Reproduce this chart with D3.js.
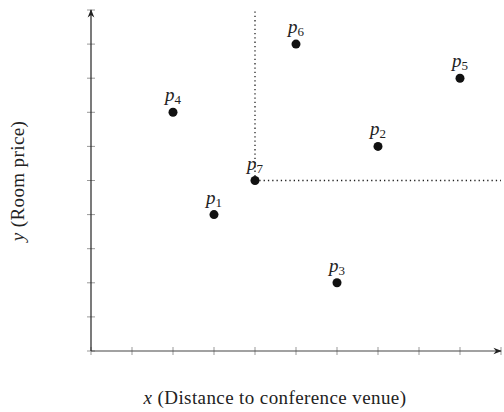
<!DOCTYPE html>
<html>
<head>
<meta charset="utf-8">
<script src="https://cdn.jsdelivr.net/npm/d3@7"></script>
<style>
  body { margin: 0; background: #fff; }
  text { font-family: "Liberation Serif", "DejaVu Serif", serif; fill: #222; }
</style>
</head>
<body>
<div id="chart"></div>
<script>
const width = 504, height = 412;
const margins = {left: 91, top: 10, right: 3, bottom: 61};

// points (hotel positions)
const names = ["1", "2", "3", "4", "5", "6", "7"];
const xs = [3, 7, 6, 2, 9, 5, 4];
const ys = [4, 6, 2, 7, 8, 9, 5];
const ticks = [0, 1, 2, 3, 4, 5, 6, 7, 8, 9, 10];
const skyline = "7"; // point with dotted dominance lines

const svg = d3.select("#chart").append("svg")
    .attr("width", width).attr("height", height);

const x = d3.scaleLinear().domain([0, 10]).range([margins.left, margins.left + 410]);
const y = d3.scaleLinear().domain([0, 10]).range([height - margins.bottom, margins.top]);

svg.append("defs").append("marker")
    .attr("id", "arrow")
    .attr("viewBox", "0 0 10 10")
    .attr("refX", 9).attr("refY", 5)
    .attr("markerWidth", 7).attr("markerHeight", 7)
    .attr("orient", "auto")
    .append("path")
    .attr("d", "M0,1 L10,5 L0,9 L3,5 Z")
    .attr("fill", "#222");

// ticks (light grey, crossing the axes)
svg.append("g").selectAll("line")
    .data(ticks)
    .join("line")
    .attr("x1", d => x(d)).attr("x2", d => x(d))
    .attr("y1", y(0) - 4).attr("y2", y(0) + 4)
    .attr("stroke", "#999").attr("stroke-width", 1);

svg.append("g").selectAll("line")
    .data(ticks)
    .join("line")
    .attr("y1", d => y(d)).attr("y2", d => y(d))
    .attr("x1", x(0) - 4).attr("x2", x(0) + 4)
    .attr("stroke", "#999").attr("stroke-width", 1);

// axes
svg.append("line")
    .attr("x1", x(0)).attr("y1", y(0))
    .attr("x2", x(10)).attr("y2", y(0))
    .attr("stroke", "#444").attr("stroke-width", 1.2)
    .attr("marker-end", "url(#arrow)");
svg.append("line")
    .attr("x1", x(0)).attr("y1", y(0))
    .attr("x2", x(0)).attr("y2", y(10))
    .attr("stroke", "#222").attr("stroke-width", 1.2)
    .attr("marker-end", "url(#arrow)");

// dotted dominance lines from the skyline point
const si = names.indexOf(skyline);
svg.append("line")
    .attr("x1", x(xs[si])).attr("y1", y(ys[si]))
    .attr("x2", x(xs[si])).attr("y2", y(10))
    .attr("stroke", "#222").attr("stroke-width", 1.3)
    .attr("stroke-dasharray", "1.3,3");
svg.append("line")
    .attr("x1", x(xs[si])).attr("y1", y(ys[si]))
    .attr("x2", x(10)).attr("y2", y(ys[si]))
    .attr("stroke", "#222").attr("stroke-width", 1.3)
    .attr("stroke-dasharray", "1.3,3");

// points
const pts = names.map((n, i) => ({n, x: xs[i], y: ys[i]}));
svg.append("g").selectAll("circle")
    .data(pts)
    .join("circle")
    .attr("cx", d => x(d.x)).attr("cy", d => y(d.y))
    .attr("r", 4.5).attr("fill", "#111");

const lab = svg.append("g").selectAll("text")
    .data(pts)
    .join("text")
    .attr("x", d => x(d.x)).attr("y", d => y(d.y) - 11)
    .attr("text-anchor", "middle")
    .style("font-size", "19px");
lab.append("tspan").style("font-style", "italic").text("p");
lab.append("tspan").attr("dy", 3).style("font-size", "13px").text(d => d.n);

// axis titles
const xt = svg.append("text")
    .attr("x", 275).attr("y", 404)
    .attr("text-anchor", "middle")
    .style("font-size", "19px")
    .style("letter-spacing", "0.4px");
xt.append("tspan").style("font-style", "italic").text("x");
xt.append("tspan").text(" (Distance to conference venue)");

const yt = svg.append("text")
    .attr("transform", "translate(24,181) rotate(-90)")
    .attr("text-anchor", "middle")
    .style("font-size", "19px")
    .style("letter-spacing", "0.4px");
yt.append("tspan").style("font-style", "italic").text("y");
yt.append("tspan").text(" (Room price)");
</script>
</body>
</html>
